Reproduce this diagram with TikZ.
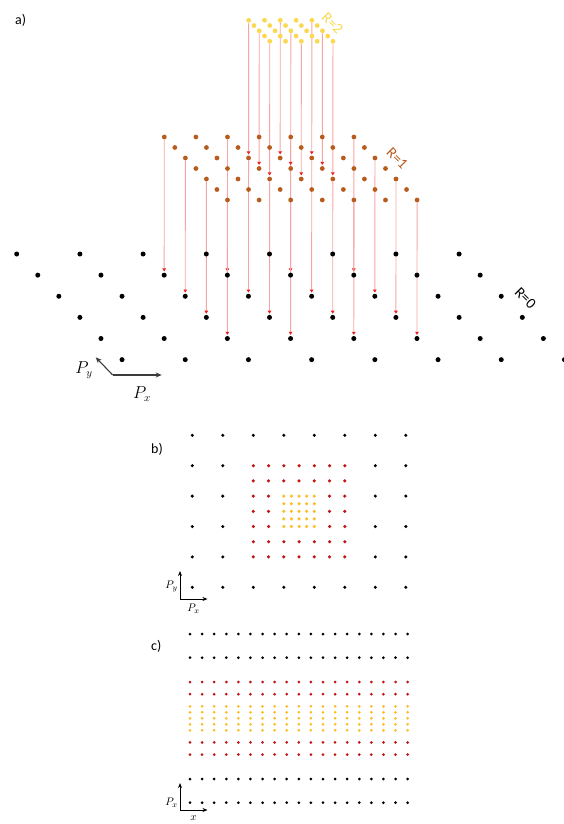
\documentclass[tikz,border=0pt]{standalone}
\usepackage{fontspec}
\setmainfont{Carlito}
\usetikzlibrary{arrows.meta,backgrounds}
\definecolor{kblack}{RGB}{0,0,0}
\definecolor{brownA}{RGB}{184,92,30}
\definecolor{yellowA}{RGB}{250,216,80}
\definecolor{redB}{RGB}{195,20,20}
\definecolor{yellowB}{RGB}{250,190,40}
\definecolor{pinkline}{RGB}{246,165,165}
\definecolor{redhead}{RGB}{240,30,30}
\definecolor{axisgrey}{RGB}{60,60,60}
\tikzset{
  pt/.style={circle,inner sep=0pt,minimum size=#1,draw=none},
  adot/.style={pt=5pt,fill=black},
  bdotA/.style={pt=4.8pt,fill=brownA},
  ydotA/.style={pt=4.8pt,fill=yellowA},
  kdotB/.style={pt=3.4pt,fill=black},
  rdotB/.style={pt=3.5pt,fill=redB},
  ydotB/.style={pt=3.5pt,fill=yellowB},
  kdotC/.style={pt=3pt,fill=black},
  rdotC/.style={pt=3pt,fill=redB},
  ydotC/.style={pt=3pt,fill=yellowB},
  proj/.style={draw=pinkline,line width=0.9pt,-{Triangle[length=3pt,width=3.6pt,color=redhead]},shorten >=1pt},
  axisA/.style={draw=axisgrey,line width=1.1pt,-{Stealth[length=6pt,width=5pt]}},
  axisB/.style={draw=black,line width=0.9pt,-{Stealth[length=5pt,width=4pt]}},
  panel/.style={font=\fontsize{14}{16}\selectfont,inner sep=0pt,anchor=base west},
  rlabel/.style={font=\fontsize{15}{17}\selectfont,inner sep=0pt,rotate=-45},
  axlabA/.style={font=\fontsize{16}{18}\selectfont,inner sep=0pt},
  axlabB/.style={font=\fontsize{11}{13}\selectfont,inner sep=0pt},
}
\begin{document}
\begin{tikzpicture}[x=1pt,y=-1pt]
\useasboundingbox (0,0) rectangle (563,824);
% ---------------- panel a ----------------
\node[panel] (la) at (15,25) {a)};
% R=0 lattice
\foreach \r in {0,...,5}{\foreach \c in {0,...,7}{
  \node[adot] (k\r-\c) at ({16.7+21.07*\r+63.2*\c},{254+21.13*\r}) {};
}}
% R=1 lattice
\foreach \r in {0,...,6}{\foreach \c in {0,...,6}{
  \node[bdotA] (m\r-\c) at ({164.3+10.53*\r+31.6*\c},{137+10.5*\r}) {};
}}
% R=2 lattice
\foreach \r in {0,...,4}{\foreach \c in {0,...,4}{
  \node[ydotA] (y\r-\c) at ({248.7+5.265*\r+15.8*\c},{20.3+5.25*\r}) {};
}}
\begin{pgfonlayer}{background}
\foreach \i in {0,...,3}{\foreach \j in {0,...,3}{
  \pgfmathtruncatemacro\sr{2*\i}\pgfmathtruncatemacro\sc{2*\j}
  \pgfmathtruncatemacro\tr{1+\i}\pgfmathtruncatemacro\tc{2+\j}
  \draw[proj] (m\sr-\sc) -- (k\tr-\tc);
}}
\foreach \i in {0,...,2}{\foreach \j in {0,...,2}{
  \pgfmathtruncatemacro\sr{2*\i}\pgfmathtruncatemacro\sc{2*\j}
  \pgfmathtruncatemacro\tr{2+\i}\pgfmathtruncatemacro\tc{2+\j}
  \draw[proj] (y\sr-\sc) -- (m\tr-\tc);
}}
\end{pgfonlayer}
\node[rlabel,text=black] (r0) at (525.5,298) {R=0};
\node[rlabel,text=brownA] (r1) at (397.3,158.7) {R=1};
\node[rlabel,text=yellowA] (r2) at (332.5,23.5) {R=2};
% axes a
\coordinate (ao) at (112.7,375);
\coordinate (ax) at (161.7,375);
\coordinate (ay) at (95.7,357.3);
\draw[axisA] (ao) -- (ax);
\draw[axisA] (ao) -- (ay);
\node[axlabA] (lpy) at (84,370) {$P_y$};
\node[axlabA] (lpx) at (142,394) {$P_x$};
% ---------------- panel b ----------------
\node[panel] (lb) at (151,453.5) {b)};
\foreach \r in {0,...,5}{\foreach \c in {0,...,7}{
  \pgfmathtruncatemacro\hide{(\r>0)*(\r<5)*(\c>1)*(\c<6)}
  \ifnum\hide=0
  \node[kdotB] (bk\r-\c) at ({192.3+30.5*\c},{435.3+30.4*\r}) {};
  \fi
}}
\foreach \r in {0,...,6}{\foreach \c in {0,...,6}{
  \pgfmathtruncatemacro\hide{(\r>1)*(\r<5)*(\c>1)*(\c<5)}
  \ifnum\hide=0
  \node[rdotB] (br\r-\c) at ({253.3+15.25*\c},{465.7+15.2*\r}) {};
  \fi
}}
\foreach \r in {0,...,4}{\foreach \c in {0,...,4}{
  \node[ydotB] (by\r-\c) at ({283.8+7.625*\c},{496.1+7.6*\r}) {};
}}
\coordinate (bo) at (180,599);
\coordinate (bx) at (207.5,599);
\coordinate (by) at (180,571);
\draw[axisB] (bo) -- (bx);
\draw[axisB] (bo) -- (by);
\node[axlabB] (lbpy) at (171.5,586.5) {$P_y$};
\node[axlabB] (lbpx) at (193.5,608.5) {$P_x$};
% ---------------- panel c ----------------
\node[panel] (lc) at (151,650.5) {c)};
\foreach \yy [count=\k] in {634,657.7,779,802.7}{
  \foreach \c in {0,...,18}{
    \node[kdotC] (ck\k-\c) at ({190+12.09*\c},\yy) {};
}}
\foreach \yy [count=\k] in {682,694.2,742.4,754.6}{
  \foreach \c in {0,...,18}{
    \node[rdotC] (cr\k-\c) at ({190+12.09*\c},\yy) {};
}}
\foreach \yy [count=\k] in {706.3,712.3,718.3,724.3,730.3}{
  \foreach \c in {0,...,18}{
    \node[ydotC] (cy\k-\c) at ({190+12.09*\c},\yy) {};
}}
\coordinate (co) at (180,810);
\coordinate (cx) at (207.5,810);
\coordinate (cyy) at (180,783);
\draw[axisB] (co) -- (cx);
\draw[axisB] (co) -- (cyy);
\node[axlabB] (lcpx) at (171.5,802.5) {$P_x$};
\node[axlabB] (lcx) at (193.5,818.5) {$x$};
\end{tikzpicture}
\end{document}
